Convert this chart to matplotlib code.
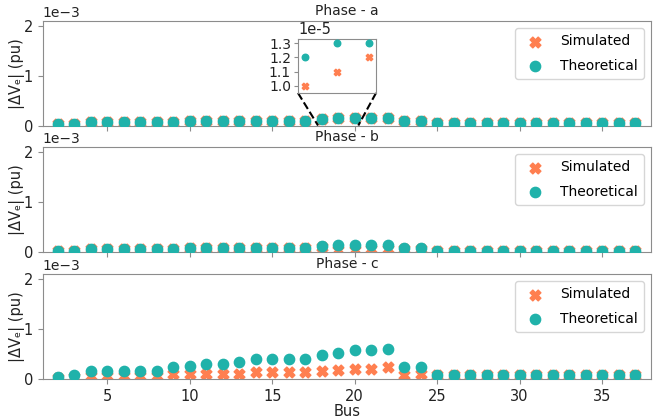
import matplotlib
matplotlib.use("Agg")
import matplotlib.pyplot as plt
import numpy as np
from mpl_toolkits.axes_grid1.inset_locator import mark_inset

buses = list(range(2, 38))

# values in 1e-3 pu
sim_a = [0.03, 0.03, 0.08, 0.08, 0.08, 0.08, 0.08, 0.08, 0.10, 0.10, 0.10, 0.10, 0.10, 0.10, 0.10, 0.10,
         0.13, 0.15, 0.15, 0.15, 0.16, 0.10, 0.10,
         0.05, 0.05, 0.05, 0.05, 0.05, 0.05, 0.05, 0.05, 0.05, 0.05, 0.05, 0.05, 0.05]
theo_a = [0.03, 0.03, 0.08, 0.08, 0.08, 0.08, 0.08, 0.08, 0.10, 0.10, 0.10, 0.10, 0.10, 0.10, 0.10, 0.10,
          0.13, 0.15, 0.15, 0.15, 0.16, 0.10, 0.10,
          0.05, 0.05, 0.05, 0.05, 0.05, 0.05, 0.05, 0.05, 0.05, 0.05, 0.05, 0.05, 0.05]
sim_b = [0.03, 0.03, 0.065, 0.065, 0.065, 0.065, 0.065, 0.065, 0.08, 0.08, 0.08, 0.08, 0.08, 0.08, 0.08, 0.08,
         0.10, 0.05, 0.05, 0.06, 0.06, 0.06, 0.06,
         0.03, 0.03, 0.03, 0.03, 0.03, 0.03, 0.03, 0.03, 0.03, 0.03, 0.03, 0.03, 0.03]
theo_b = [0.03, 0.03, 0.065, 0.065, 0.065, 0.065, 0.065, 0.065, 0.08, 0.08, 0.08, 0.08, 0.08, 0.08, 0.08, 0.08,
          0.12, 0.14, 0.14, 0.15, 0.15, 0.08, 0.08,
          0.03, 0.03, 0.03, 0.03, 0.03, 0.03, 0.03, 0.03, 0.03, 0.03, 0.03, 0.03, 0.03]
sim_c = [0.02, 0.05, 0.06, 0.06, 0.06, 0.06, 0.06, 0.11, 0.11, 0.11, 0.11, 0.11, 0.14, 0.14, 0.14, 0.14,
         0.17, 0.19, 0.21, 0.20, 0.24, 0.08, 0.10,
         0.08, 0.08, 0.08, 0.08, 0.08, 0.08, 0.08, 0.08, 0.08, 0.08, 0.08, 0.08, 0.08]
theo_c = [0.04, 0.09, 0.16, 0.16, 0.16, 0.16, 0.16, 0.24, 0.27, 0.30, 0.30, 0.35, 0.40, 0.40, 0.40, 0.40,
          0.49, 0.53, 0.58, 0.58, 0.61, 0.25, 0.25,
          0.09, 0.09, 0.09, 0.09, 0.09, 0.09, 0.09, 0.09, 0.09, 0.09, 0.09, 0.09, 0.09]

# inset (phase a), values in 1e-5 pu
inset_buses = [18, 19, 20]
inset_sim = [1.0, 1.1, 1.2]
inset_theo = [1.2, 1.3, 1.3]

phases = ["a", "b", "c"]
sims = [sim_a, sim_b, sim_c]
theos = [theo_a, theo_b, theo_c]

ORANGE = "#FF7F50"
TEAL = "#20B2AA"
SPINE = "0.55"
TXT = "#222222"

fig = plt.figure(figsize=(6.6, 4.18), dpi=100)
left, width = 0.065, 0.921
tops = [0.9498, 0.6483, 0.3445]
h = 0.2512
axes = []
for i in range(3):
    ax = fig.add_axes([left, tops[i] - h, width, h])
    axes.append(ax)
    x = np.array(buses)
    ax.scatter(x, np.array(sims[i]) * 1e-3, marker="X", s=60, color=ORANGE, label="Simulated", zorder=2)
    ax.scatter(x, np.array(theos[i]) * 1e-3, marker="o", s=55, color=TEAL, label="Theoretical", zorder=3)
    ax.set_xlim(1.1, 37.95)
    ax.set_ylim(0, 0.0021)
    ax.set_yticks([0, 0.001, 0.002])
    ax.set_xticks([5, 10, 15, 20, 25, 30, 35])
    ax.ticklabel_format(axis="y", style="sci", scilimits=(0, 0))
    ax.yaxis.get_offset_text().set_fontsize(10)
    ax.yaxis.get_offset_text().set_color(TXT)
    ax.tick_params(labelsize=10.5, colors=SPINE, labelcolor=TXT, length=3.5)
    for s in ax.spines.values():
        s.set_color(SPINE)
    ax.set_title("Phase - " + phases[i], fontsize=10, color=TXT, pad=4)
    ax.set_ylabel("|ΔVₑ| (pu)", fontsize=10.5, color=TXT, labelpad=-1)
    ax.legend(loc="upper right", fontsize=10, borderpad=0.45, handlelength=1.9,
              handletextpad=0.85, labelspacing=0.75, borderaxespad=0.5)
    if i < 2:
        ax.tick_params(labelbottom=False)
axes[2].set_xlabel("Bus", fontsize=10.5, color=TXT, labelpad=0)

# inset
ins = fig.add_axes([298 / 660, 1 - 93 / 418, 78 / 660, 54 / 418])
ins.scatter(inset_buses, np.array(inset_sim) * 1e-5, marker="X", s=22, color=ORANGE, zorder=2)
ins.scatter(inset_buses, np.array(inset_theo) * 1e-5, marker="o", s=22, color=TEAL, zorder=3)
ins.set_xlim(17.78, 20.22)
ins.set_ylim(0.95e-5, 1.33e-5)
ins.set_xticks([])
yt = [1.0, 1.1, 1.2, 1.3]
ins.set_yticks([v * 1e-5 for v in yt])
ins.set_yticklabels(["%.1f" % v for v in yt])
ins.tick_params(labelsize=10, colors=SPINE, labelcolor=TXT, length=3, pad=2)
for s in ins.spines.values():
    s.set_color(SPINE)
ins.text(0.0, 1.04, "1e-5", transform=ins.transAxes, ha="left", va="bottom", fontsize=10.5, color=TXT)
pp, p1, p2 = mark_inset(axes[0], ins, loc1=3, loc2=4, fc="none", ec="black", ls="--", lw=1.5)
pp.set_visible(False)

fig.savefig("out.png", dpi=100)
